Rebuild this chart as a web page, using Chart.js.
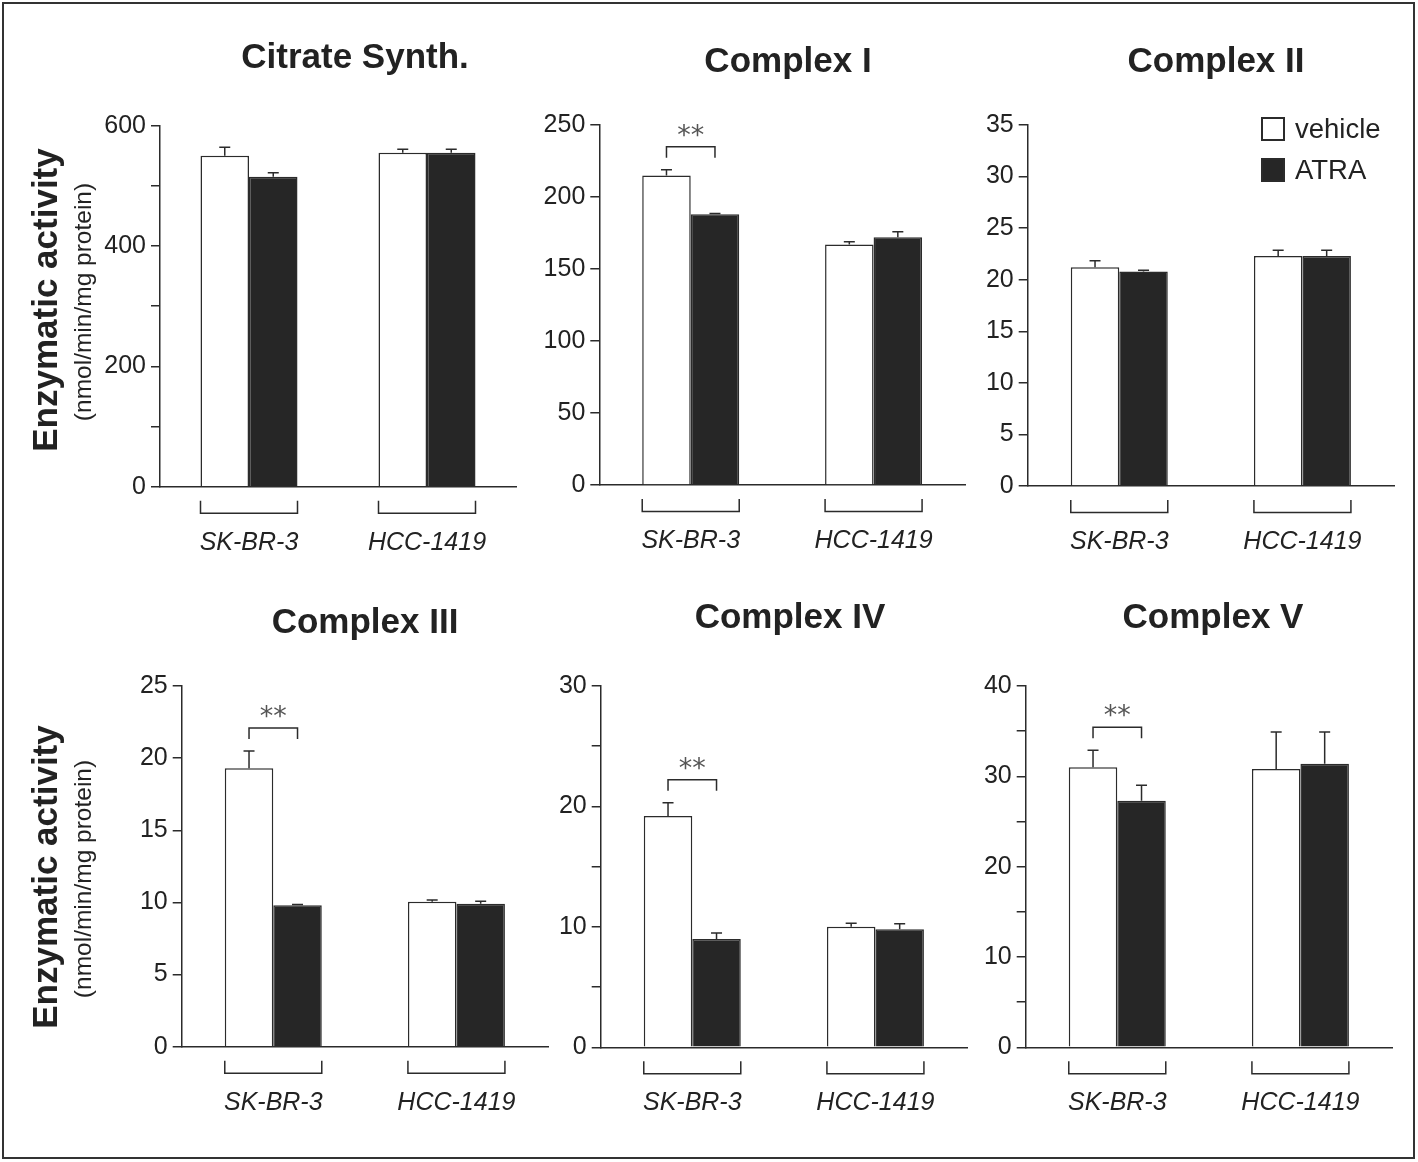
<!DOCTYPE html>
<html>
<head>
<meta charset="utf-8">
<script src="https://cdn.jsdelivr.net/npm/chart.js@4.4.1/dist/chart.umd.min.js"></script>
<style>
  html, body { margin: 0; padding: 0; background: #fff; }
  #page { position: relative; width: 1418px; height: 1162px; overflow: hidden; background: #fff; }
  #page canvas { position: absolute; left: 0; top: 0; }
  #frame { position: absolute; left: 2px; top: 2px; width: 1409px; height: 1153px; border: 2.5px solid #333; }
</style>
</head>
<body>
<div id="page">
  <div id="frame"></div>
</div>
<script>
// ---- data ----
const categories = ['SK-BR-3', 'HCC-1419'];
const seriesNames = ['vehicle', 'ATRA'];
const panelTitles = ['Citrate Synth.', 'Complex I', 'Complex II', 'Complex III', 'Complex IV', 'Complex V'];
const vehicleValues = [[550, 555], [215, 167], [21.2, 22.3], [19.3, 10.05], [19.2, 10.0], [31.0, 30.8]];
const atraValues = [[515, 555], [188, 172], [20.8, 22.3], [9.8, 9.9], [9.0, 9.8], [27.3, 31.4]];
const vehicleErrors = [[14, 6], [4, 2], [0.65, 0.55], [1.2, 0.12], [1.1, 0.3], [1.9, 4.1]];
const atraErrors = [[7, 6], [0.5, 3.8], [0.12, 0.55], [0.05, 0.18], [0.5, 0.45], [1.7, 3.5]];
const yMax = [600, 250, 35, 25, 30, 40];
const yTickStep = [100, 50, 5, 5, 5, 5];
const yLabelStep = [200, 50, 5, 5, 10, 10];
const significance = ['', '**', '', '**', '**', '**']; // vehicle vs ATRA in SK-BR-3
const yTitle = 'Enzymatic activity';
const ySubtitle = '(nmol/min/mg protein)';

// ---- layout (page pixels) ----
const frames = [
  { left: 160, right: 516, top: 125.7, bottom: 486.7, tx: 355, ty: 58 },
  { left: 599.3, right: 965, top: 125, bottom: 485, tx: 788, ty: 62 },
  { left: 1027.7, right: 1394, top: 125, bottom: 486, tx: 1216, ty: 62 },
  { left: 181.7, right: 548, top: 686, bottom: 1046.7, tx: 365, ty: 623 },
  { left: 600.7, right: 967, top: 686, bottom: 1047.3, tx: 790, ty: 618 },
  { left: 1025.7, right: 1392, top: 686, bottom: 1047.3, tx: 1213, ty: 618 }
];
const W = 1418, H = 1162;
const INK = '#2b2b2b';
const DARK = '#262626';
const FONT = "'Liberation Sans', Arial, sans-serif";

const decorPlugin = {
  id: 'decor',
  afterDatasetsDraw(chart, args, opts) {
    const p = opts.panel;
    const f = frames[p];
    const ctx = chart.ctx;
    const y = chart.scales.y;
    const area = chart.chartArea;
    const metas = [chart.getDatasetMeta(0), chart.getDatasetMeta(1)];
    const vals = [vehicleValues[p], atraValues[p]];
    const errs = [vehicleErrors[p], atraErrors[p]];
    ctx.save();
    ctx.strokeStyle = INK;
    ctx.lineWidth = 1.5;

    // error bars (upper half only)
    metas.forEach((meta, d) => {
      meta.data.forEach((bar, i) => {
        const top = y.getPixelForValue(vals[d][i] + errs[d][i]);
        ctx.beginPath();
        ctx.moveTo(bar.x, bar.y);
        ctx.lineTo(bar.x, top);
        ctx.moveTo(bar.x - 5.5, top);
        ctx.lineTo(bar.x + 5.5, top);
        ctx.stroke();
      });
    });

    // brackets under each cell line
    categories.forEach((c, i) => {
      const a = metas[0].data[i], b = metas[1].data[i];
      const x1 = a.x - a.width / 2, x2 = b.x + b.width / 2;
      const y1 = area.bottom + 14, y2 = area.bottom + 26.5;
      ctx.beginPath();
      ctx.moveTo(x1, y1);
      ctx.lineTo(x1, y2);
      ctx.lineTo(x2, y2);
      ctx.lineTo(x2, y1);
      ctx.stroke();
    });

    // significance bracket
    if (significance[p]) {
      const xa = metas[0].data[0].x, xb = metas[1].data[0].x;
      const errTop = Math.min(
        y.getPixelForValue(vals[0][0] + errs[0][0]),
        y.getPixelForValue(vals[1][0] + errs[1][0]));
      const yb = errTop - 12, yt = yb - 11;
      ctx.beginPath();
      ctx.moveTo(xa, yb);
      ctx.lineTo(xa, yt);
      ctx.lineTo(xb, yt);
      ctx.lineTo(xb, yb);
      ctx.stroke();
      ctx.fillStyle = '#555';
      ctx.font = "27px 'DejaVu Sans', sans-serif";
      ctx.textAlign = 'center';
      ctx.textBaseline = 'middle';
      ctx.fillText(significance[p], (xa + xb) / 2, yt - 10);
    }

    // panel title
    ctx.fillStyle = '#222';
    ctx.font = 'bold 35px ' + FONT;
    ctx.textAlign = 'center';
    ctx.textBaseline = 'middle';
    ctx.fillText(panelTitles[p], f.tx, f.ty);

    // y axis titles on the left column
    if (p === 0 || p === 3) {
      const cy = p === 0 ? 300 : 877;
      ctx.save();
      ctx.translate(47, cy);
      ctx.rotate(-Math.PI / 2);
      ctx.font = 'bold 35px ' + FONT;
      ctx.fillText(yTitle, 0, 0);
      ctx.restore();
      ctx.save();
      ctx.translate(84, cy + 2);
      ctx.rotate(-Math.PI / 2);
      ctx.font = '24.5px ' + FONT;
      ctx.fillText(ySubtitle, 0, 0);
      ctx.restore();
    }

    // legend in the Complex II panel
    if (p === 2) {
      const lx = 1261, ly = [117, 158];
      chart.data.datasets.forEach((ds, d) => {
        ctx.fillStyle = ds.backgroundColor;
        ctx.fillRect(lx, ly[d], 24, 24);
        ctx.lineWidth = 2;
        ctx.strokeStyle = ds.borderColor;
        ctx.strokeRect(lx + 1, ly[d] + 1, 22, 22);
        ctx.fillStyle = '#222';
        ctx.font = '27.5px ' + FONT;
        ctx.textAlign = 'left';
        ctx.textBaseline = 'middle';
        ctx.fillText(ds.label, lx + 34, ly[d] + 13);
      });
    }
    ctx.restore();
  }
};

function makePanel(p) {
  const f = frames[p];
  const canvas = document.createElement('canvas');
  canvas.width = W;
  canvas.height = H;
  document.getElementById('page').appendChild(canvas);
  const axisW = 80, axisH = 80;
  const catPct = 97 / ((f.right - f.left) / 2);
  new Chart(canvas.getContext('2d'), {
    type: 'bar',
    data: {
      labels: categories,
      datasets: [{
        label: seriesNames[0],
        data: vehicleValues[p],
        backgroundColor: '#ffffff',
        borderColor: INK,
        borderWidth: 1.5,
        categoryPercentage: catPct,
        barPercentage: 1
      }, {
        label: seriesNames[1],
        data: atraValues[p],
        backgroundColor: DARK,
        borderColor: INK,
        borderWidth: 1.5,
        categoryPercentage: catPct,
        barPercentage: 1
      }]
    },
    options: {
      responsive: false,
      animation: false,
      events: [],
      layout: {
        padding: {
          left: f.left - axisW,
          top: f.top,
          right: W - f.right,
          bottom: H - f.bottom - axisH
        }
      },
      plugins: {
        legend: { display: false },
        tooltip: { enabled: false },
        title: { display: false },
        decor: { panel: p }
      },
      scales: {
        x: {
          offset: true,
          grid: { display: false },
          border: { display: true, color: INK, width: 1.5 },
          ticks: {
            color: '#222',
            font: { family: FONT, size: 25, style: 'italic' },
            padding: 33,
            maxRotation: 0
          },
          afterFit: s => { s.height = axisH; }
        },
        y: {
          min: 0,
          max: yMax[p],
          grid: { drawOnChartArea: false, drawTicks: true, tickLength: 9, color: INK, lineWidth: 1.5 },
          border: { display: true, color: INK, width: 1.5 },
          ticks: {
            stepSize: yTickStep[p],
            autoSkip: false,
            color: '#222',
            font: { family: FONT, size: 25 },
            padding: 5,
            callback: v => (v % yLabelStep[p] === 0 ? v : '')
          },
          afterFit: s => { s.width = axisW; }
        }
      }
    },
    plugins: [decorPlugin]
  });
}

window.addEventListener('DOMContentLoaded', () => {
  for (let p = 0; p < panelTitles.length; p++) makePanel(p);
});
</script>
</body>
</html>
